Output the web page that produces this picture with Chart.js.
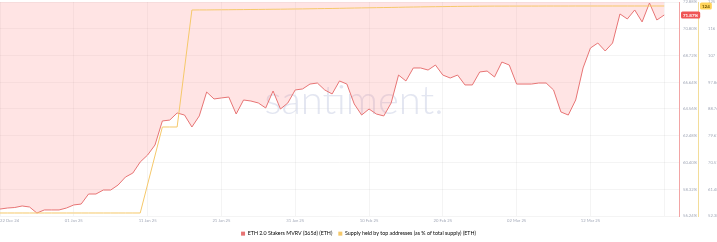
<!DOCTYPE html>
<html>
<head>
<meta charset="utf-8">
<script src="https://cdn.jsdelivr.net/npm/chart.js@4.4.1/dist/chart.umd.min.js"></script>
<style>
  html, body { margin: 0; padding: 0; background: #fff; }
  #wrap { width: 717px; height: 242px; position: relative; }
</style>
</head>
<body>
<div id="wrap"><canvas id="chart" width="717" height="242"></canvas></div>
<script>
// Daily points, 22 Dec 24 .. 22 Mar 25
const X_TICK_LABELS = ['22 Dec 24', '01 Jan 25', '11 Jan 25', '21 Jan 25', '31 Jan 25',
  '10 Feb 25', '20 Feb 25', '02 Mar 25', '12 Mar 25', ''];

const MVRV_LABEL = 'ETH 2.0 Stakers MVRV (365d) (ETH)';
const SUPPLY_LABEL = 'Supply held by top addresses (as % of total supply) (ETH)';

const MVRV = [
  56.78, 56.86, 56.90, 57.02, 56.94, 56.47, 56.71, 56.71, 56.71, 56.86,
  57.10, 57.17, 57.95, 57.95, 58.26, 58.26, 58.65, 59.27, 59.58, 60.44,
  60.98, 61.76, 63.63, 63.70, 64.25, 64.09, 63.16, 64.02, 65.88, 65.34,
  65.42, 65.49, 64.17, 65.26, 65.18, 65.03, 64.64, 65.96, 64.56, 65.03,
  66.04, 66.12, 66.50, 66.58, 66.04, 65.73, 66.74, 66.50, 64.95, 64.09,
  64.56, 64.17, 64.02, 65.03, 67.20, 66.74, 67.75, 67.75, 67.59, 67.98,
  67.20, 66.97, 67.20, 66.43, 66.43, 67.44, 67.51, 67.05, 68.21, 67.98,
  66.50, 66.50, 66.50, 66.58, 66.58, 66.04, 64.33, 64.09, 65.26, 67.75,
  69.30, 69.69, 69.07, 69.69, 71.95, 71.56, 72.26, 71.33, 72.80, 71.48,
  71.87,
];

// null = no sample that day, the line spans the gap
const SUPPLY = [
  53.41, 53.41, 53.41, 53.41, 53.41, 53.41, 53.41, 53.41, 53.41, 53.41,
  53.41, 53.41, 53.41, 53.41, 53.41, 53.41, 53.41, 53.41, 53.41, 53.41,
  null, null, 82.65, 82.65, 82.65, null, 122.43, 122.45, 122.45, 122.48,
  122.50, 122.52, 122.55, 122.57, 122.60, 122.62, 122.65, 122.68, 122.70, 122.74,
  122.77, 122.80, 122.84, 122.88, 122.92, 122.95, 123.00, 123.05, 123.10, 123.14,
  123.18, 123.22, 123.26, 123.30, 123.35, 123.40, 123.44, 123.48, 123.52, 123.55,
  123.58, 123.62, 123.65, 123.68, 123.70, 123.72, 123.74, 123.75, 123.75, 123.76,
  123.76, 123.77, 123.77, 123.77, 123.78, 123.78, 123.78, 123.78, 123.79, 123.79,
  123.79, 123.79, 123.79, 123.79, 123.79, 123.79, 123.79, 123.79, 123.79, 123.79,
  123.79,
];

const MVRV_TICKS = [56.24, 58.32, 60.40, 62.48, 64.56, 66.64, 68.72, 70.80, 72.88];
const SUPPLY_TICKS = [52.387, 61.482, 70.577, 79.672, 88.767, 97.862, 106.957, 116.052, 125.147];

const RED = '#e77474';
const RED_FILL = 'rgba(255, 120, 120, 0.2)';
const YELLOW = '#f5c86a';
const TICK_COLOR = '#a3a9b8';
const GRID = 'rgba(0, 0, 0, 0.045)';
const FONT = 'Lato, "Open Sans", sans-serif';

const pts = (arr) => arr.map((v, i) => ({ x: i, y: v }));

function fmtSupply(v) {
  return v >= 100 ? String(Math.round(v)) : v.toFixed(3);
}

// Faint "santiment" mark behind the lines
const watermark = {
  id: 'watermark',
  beforeDatasetsDraw(chart) {
    const { ctx } = chart;
    ctx.save();
    ctx.font = '300 40px ' + FONT;
    ctx.fillStyle = 'rgba(200, 206, 228, 0.5)';
    ctx.textAlign = 'center';
    ctx.textBaseline = 'middle';
    ctx.fillText('santiment.', 354, 101);
    ctx.restore();
  },
};

// Last-value badges on the two right axes
const lastValueBadges = {
  id: 'lastValueBadges',
  afterDraw(chart) {
    const { ctx } = chart;
    const badge = (scale, value, text, bg, fg) => {
      const y = scale.getPixelForValue(value);
      ctx.save();
      ctx.font = 'bold 4.5px ' + FONT;
      const w = ctx.measureText(text).width + 4;
      const x = scale.left + 2;
      ctx.fillStyle = bg;
      ctx.beginPath();
      ctx.roundRect(x, y - 3.5, w, 7, 1.5);
      ctx.fill();
      ctx.fillStyle = fg;
      ctx.textBaseline = 'middle';
      ctx.fillText(text, x + 2, y + 0.3);
      ctx.restore();
    };
    const lastM = MVRV[MVRV.length - 1];
    const lastS = SUPPLY[SUPPLY.length - 1];
    badge(chart.scales.yMvrv, lastM, lastM.toFixed(2) + '%', '#ef5555', '#fff');
    badge(chart.scales.ySupply, lastS, String(Math.round(lastS)), '#ffd45c', '#6e5400');
  },
};

// keep the legend strip a fixed height
const legendHeight = {
  id: 'legendHeight',
  beforeInit(chart) {
    const fit = chart.legend.fit;
    chart.legend.fit = function () {
      fit.bind(chart.legend)();
      this.height = 17;
    };
  },
};

// right axes: fixed width, no extra label padding on top/bottom
const fitRightAxis = (scale) => {
  scale.width = 19;
  scale.paddingTop = 2;
  scale.paddingBottom = 0;
};

new Chart(document.getElementById('chart'), {
  type: 'line',
  data: {
    datasets: [
      {
        label: MVRV_LABEL,
        data: pts(MVRV),
        yAxisID: 'yMvrv',
        borderColor: RED,
        backgroundColor: RED_FILL,
        borderWidth: 1,
        pointRadius: 0,
        tension: 0,
        fill: 'end',
        order: 1,
      },
      {
        label: SUPPLY_LABEL,
        data: pts(SUPPLY),
        yAxisID: 'ySupply',
        borderColor: YELLOW,
        backgroundColor: YELLOW,
        borderWidth: 1,
        pointRadius: 0,
        tension: 0,
        spanGaps: true,
        fill: false,
        order: 0,
      },
    ],
  },
  options: {
    responsive: false,
    animation: false,
    layout: { padding: 0 },
    plugins: {
      tooltip: { enabled: false },
      legend: {
        position: 'bottom',
        labels: {
          boxWidth: 4,
          boxHeight: 4,
          padding: 6,
          color: '#3a3f4b',
          font: { family: FONT, size: 5.3 },
          generateLabels(chart) {
            return chart.data.datasets.map((ds, i) => ({
              text: ds.label,
              fillStyle: ds.borderColor,
              strokeStyle: ds.borderColor,
              lineWidth: 0,
              datasetIndex: i,
              hidden: false,
            }));
          },
        },
      },
    },
    scales: {
      x: {
        type: 'linear',
        min: 0,
        max: 92,
        grid: { color: GRID, drawTicks: false },
        border: { display: false },
        ticks: {
          stepSize: 10,
          includeBounds: false,
          autoSkip: false,
          maxRotation: 0,
          align: 'inner',
          padding: 2,
          color: TICK_COLOR,
          font: { family: FONT, size: 4.2 },
          callback: (v) => (v % 10 === 0 ? X_TICK_LABELS[v / 10] : null),
        },
        afterFit: (scale) => {
          scale.height = 9;
          scale.paddingLeft = 0;
          scale.paddingRight = 0;
        },
      },
      yMvrv: {
        position: 'right',
        weight: 0,
        min: MVRV_TICKS[0],
        max: MVRV_TICKS[MVRV_TICKS.length - 1],
        afterBuildTicks: (scale) => { scale.ticks = MVRV_TICKS.map((v) => ({ value: v })); },
        grid: { color: GRID, drawTicks: false },
        border: { color: '#f2a5a5', width: 1 },
        ticks: {
          padding: 4,
          color: TICK_COLOR,
          font: { family: FONT, size: 4.2 },
          callback: (v) => v.toFixed(2) + '%',
        },
        afterFit: fitRightAxis,
      },
      ySupply: {
        position: 'right',
        weight: 1,
        min: SUPPLY_TICKS[0],
        max: SUPPLY_TICKS[SUPPLY_TICKS.length - 1],
        afterBuildTicks: (scale) => { scale.ticks = SUPPLY_TICKS.map((v) => ({ value: v })); },
        grid: { display: false },
        border: { color: '#f3dd9a', width: 1 },
        ticks: {
          padding: 2,
          color: TICK_COLOR,
          font: { family: FONT, size: 4.2 },
          callback: (v) => fmtSupply(v),
        },
        afterFit: fitRightAxis,
      },
    },
  },
  plugins: [watermark, lastValueBadges, legendHeight],
});
</script>
</body>
</html>
